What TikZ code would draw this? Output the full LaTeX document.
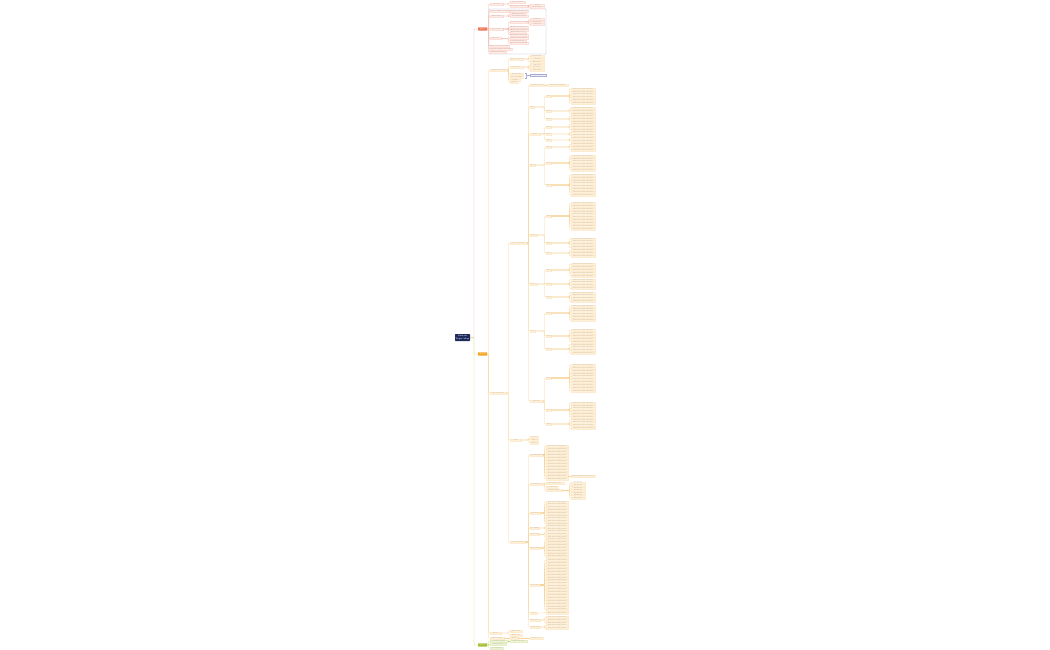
\documentclass[tikz,border=0pt]{standalone}
\usepackage{tikz}
\usetikzlibrary{calc,positioning}
\definecolor{marino}{HTML}{1F2A5C}
\definecolor{coralA}{HTML}{F07A5C}
\definecolor{ambarB}{HTML}{F5A623}
\definecolor{limaC}{HTML}{A5C23A}
\definecolor{lavanda}{HTML}{A9AED3}
\tikzset{
  raiz/.style={fill=marino,text=white,font=\fontsize{1.9}{2.3}\selectfont\bfseries,align=center,minimum width=15pt,minimum height=7pt,inner sep=0pt,rounded corners=0.6pt},
  tema/.style={anchor=west,inner sep=0pt,minimum height=3.4pt,rounded corners=0.4pt,text=white,font=\fontsize{1.4}{1.6}\selectfont},
  temaA/.style={tema,fill=coralA},
  temaB/.style={tema,fill=ambarB},
  temaC/.style={tema,fill=limaC},
  sub/.style={anchor=west,inner xsep=0.5pt,inner ysep=0pt,minimum height=2.1pt,line width=0.15pt,text=black!55,font=\fontsize{1.1}{1.3}\selectfont},
  subA/.style={sub,fill=coralA!13,draw=coralA!25},
  subB/.style={sub,fill=ambarB!16,draw=ambarB!22},
  subC/.style={sub,fill=limaC!20,draw=limaC!30},
  nota/.style={sub,fill=lavanda!20,draw=lavanda},
  ramaA/.style={draw=coralA!55,line width=0.35pt,rounded corners=1pt},
  ramaB/.style={draw=ambarB!50,line width=0.35pt,rounded corners=1pt},
  ramaC/.style={draw=limaC!60,line width=0.35pt,rounded corners=1pt}
}
\begin{document}
\begin{tikzpicture}[x=1pt,y=-1pt]
\fill[white] (0,0) rectangle (1050,650);
\useasboundingbox (0,0) rectangle (1050,650);

% root and main topics
\node[raiz] (raiz) at (462.5,337.5) {Central\\Topic Map};
\node[temaA,minimum width=9] (A) at (478,29) {Basics};
\node[temaB,minimum width=9] (B) at (478,354) {Details};
\node[temaC,minimum width=9] (C) at (478,645) {Notes};
\foreach \t/\c in {A/ramaA,B/ramaB,C/ramaC}
  \draw[\c] (raiz.east) -| ([xshift=-4pt]\t.west) -- (\t.west);

% first branch
\draw[lavanda,line width=0.4pt,rounded corners=0.5pt] (489,9) rectangle (546,54);
\foreach \n/\y/\w/\t in {a1/4/13/Overview, a2/11/19/General definition of terms, a3/16/13/Main features, a4/29/13/Key elements, a5/38.5/11/Main types, a6/46/19/Related concepts and ideas, a7/49/20/Common questions and answers, a8/52/16/Summary of this part}{
  \node[subA,minimum width=\w] (\n) at (490,\y) {\t};
  \draw[ramaA] (A.east) -| ([xshift=-1.5pt]\n.west) -- (\n.west);
}
\foreach \p/\n/\y/\w/\t in {a1/a11/2/15/Short description, a1/a12/6/18/Background of the topic, a2/a21/11/18/Meaning of the main term, a3/a31/14/16/First main feature, a3/a32/16.5/18/Second main feature, a4/a41/22/18/Structure of the elements, a4/a42/27.5/18/Element one and its role, a4/a43/30/18/Element two and its role, a4/a44/32.5/16/Element three in use, a4/a45/35/18/Element four and its role, a5/a51/38.5/18/First type with example, a5/a52/41/16/Second type in use, a5/a53/43.5/18/Third type with example}{
  \node[subA,minimum width=\w] (\n) at (510,\y) {\t};
  \draw[ramaA] (\p.east) -| ([xshift=-1.5pt]\n.west) -- (\n.west);
}
\foreach \p/\n/\y/\t in {a12/a121/4.8/Origin, a12/a122/7.2/Later changes, a41/a411/19.5/Inner part, a41/a412/22/Middle part, a41/a413/24.5/Outer part}{
  \node[subA,minimum width=14] (\n) at (530,\y) {\t};
  \draw[ramaA] (\p.east) -| ([xshift=-1.5pt]\n.west) -- (\n.west);
}

% second branch
\foreach \n/\y/\w/\t in {b1/70/18/Preparation and tools, b2/393/16/Process in detail, b3/633/11/Practice, b4/638/14/Further reading}{
  \node[subB,minimum width=\w] (\n) at (490,\y) {\t};
  \draw[ramaB] (B.east) -| ([xshift=-1.5pt]\n.west) -- (\n.west);
}
\foreach \n/\y/\w/\t in {b11/59/13/Things to prepare, b12/67/13/Tools to use, b13/74/13/Time planning, b14/77/13/Place planning, b15/80/10/Budget, b16/82.5/8/Helpers}{
  \node[subB,minimum width=\w] (\n) at (510,\y) {\t};
  \draw[ramaB] (b1.east) -| ([xshift=-1.5pt]\n.west) -- (\n.west);
}
\foreach \p/\n/\y/\t in {b11/b111/56/Material list, b11/b112/59/Checklist, b11/b113/62/Extra items, b12/b121/65/Basic tool, b12/b122/67.5/Special tool, b12/b123/70/Spare parts}{
  \node[subB,minimum width=14] (\n) at (530,\y) {\t};
  \draw[ramaB] (\p.east) -| ([xshift=-1.5pt]\n.west) -- (\n.west);
}
\coordinate (s1) at (525,73);
\coordinate (s2) at (525,78);
\node[nota,minimum width=16] (resumen) at (530,75.5) {Plan in advance};
\draw[lavanda,line width=0.3pt] (s1) -- ++(1.2,0) |- (resumen.west);
\draw[lavanda,line width=0.3pt] (s2) -- ++(1.2,0) |- (resumen.west);

\foreach \n/\y/\w/\t in {c1/243/17/Step by step method, c2/440/11/Checks, c3/542/15/Common problems}{
  \node[subB,minimum width=\w] (\n) at (510,\y) {\t};
  \draw[ramaB] (b2.east) -| ([xshift=-1.5pt]\n.west) -- (\n.west);
}
\foreach \n/\y/\w/\t in {d1/85/15/Start and overview, d2/107/4/One, d3/134/10/Step two, d4/165/5/Three, d5/235/7/Step 4, d6/284/7/Step 5, d7/331/5/Six, d8/401/13/Final step}{
  \node[subB,minimum width=\w] (\n) at (530,\y) {\t};
  \draw[ramaB] (c1.east) -| ([xshift=-1.5pt]\n.west) -- (\n.west);
}
\node[subB,minimum width=21] (d11) at (547,85) {Read all the steps first};
\draw[ramaB] (d1.east) -- (d11.west);
\foreach \p/\n/\y in {d2/f1/96, d2/f2/111, d2/f3/119, d3/f4/127, d3/f5/134, d3/f6/140, d4/f7/147, d4/f8/163, d4/f9/185, d5/f10/216, d5/f11/243, d5/f12/253, d6/f13/270, d6/f14/284, d6/f15/297, d7/f16/313, d7/f17/336, d7/f18/349, d8/f19/378, d8/f20/410, d8/f21/424}{
  \node[subB,minimum width=5] (\n) at (546,\y) {Item};
  \draw[ramaB] (\p.east) -| ([xshift=-1.5pt]\n.west) -- (\n.west);
}
\foreach \p/\y/\k in {f1/96/6, f2/111/3, f3/119/3, f4/127/3, f5/134/2, f6/140/2, f7/147/3, f8/163/6, f9/185/8, f10/216/10, f11/243/4, f12/253/3, f13/270/5, f14/284/4, f15/297/4, f16/313/6, f17/336/5, f18/349/4, f19/378/10, f20/410/6, f21/424/4}{
  \foreach \j in {1,...,\k}{
    \pgfmathsetmacro\yy{\y+(\j-(\k+1)/2)*2.9}
    \node[subB,minimum width=24] (\p-\j) at (571,\yy) {Short note on this detail item};
    \draw[ramaB] (\p.east) -| ([xshift=-1.5pt]\p-\j.west) -- (\p-\j.west);
  }
}
\foreach \n/\y/\t in {c21/437/Check 1, c22/440/Check 2, c23/443/Check 3}{
  \node[subB,minimum width=8] (\n) at (530,\y) {\t};
  \draw[ramaB] (c2.east) -| ([xshift=-1.5pt]\n.west) -- (\n.west);
}
\foreach \n/\y/\w/\t in {e1/455/13/Frequent mistakes, e2/484/12/Slow progress, e3/513/10/Bad results, e4/528/9/Low quality, e5/534.5/9/Wrong order, e6/548/10/Missing parts, e7/585/10/Other issues, e8/613/7/Safety, e9/620/10/Maintenance, e10/627/10/Storage tips}{
  \node[subB,minimum width=\w] (\n) at (530,\y) {\t};
  \draw[ramaB] (c3.east) -| ([xshift=-1.5pt]\n.west) -- (\n.west);
}
\foreach \p/\y/\k/\s in {e1/462.5/12/3, e3/513/9/2.8, e4/528/2/2.8, e5/534.5/3/2.9, e6/548/7/2.9, e7/585/18/2.9, e8/613/1/2.9, e9/620/3/2.9, e10/627/2/2.9}{
  \foreach \j in {1,...,\k}{
    \pgfmathsetmacro\yy{\y+(\j-(\k+1)/2)*\s}
    \node[subB,minimum width=22] (\p-\j) at (546,\yy) {Short note on this problem};
    \draw[ramaB] (\p.east) -| ([xshift=-1.5pt]\p-\j.west) -- (\p-\j.west);
  }
}
\node[subB,minimum width=24] (e1x) at (571,476) {Extra remark on the note above};
\draw[ramaB] (e1-11.east) -- (e1x.west);
\foreach \n/\y/\w/\t in {h1/483.5/18/Not enough practice, h2/487/12/Poor planning, h3/490.5/16/Possible solutions}{
  \node[subB,minimum width=\w] (\n) at (546,\y) {\t};
  \draw[ramaB] (e2.east) -| ([xshift=-1.5pt]\n.west) -- (\n.west);
}
\foreach \j in {1,...,7}{
  \pgfmathsetmacro\yy{490.5+(\j-4)*2.6}
  \node[subB,minimum width=14] (h3-\j) at (571,\yy) {Try this idea};
  \draw[ramaB] (h3.east) -| ([xshift=-1.5pt]h3-\j.west) -- (h3-\j.west);
}
\foreach \n/\y/\t in {b31/631/Exercise one, b32/635/Exercise two}{
  \node[subB,minimum width=12] (\n) at (510,\y) {\t};
  \draw[ramaB] (b3.east) -| ([xshift=-1.5pt]\n.west) -- (\n.west);
}
\node[subB,minimum width=8] (b41) at (510,638) {Books};
\draw[ramaB] (b4.east) -- (b41.west);
\node[subB,minimum width=13] (b411) at (530,638) {Online sources};
\draw[ramaB] (b41.east) -- (b411.west);

% third branch
\foreach \n/\y/\w/\t in {g1/641/18/Personal experience, g2/644.5/16/Ideas for later, g3/648/13/Open questions}{
  \node[subC,minimum width=\w] (\n) at (490,\y) {\t};
  \draw[ramaC] (C.east) -| ([xshift=-1.5pt]\n.west) -- (\n.west);
}
\node[subC,minimum width=17] (g11) at (510,641) {What worked well};
\draw[ramaC] (g1.east) -- (g11.west);
\end{tikzpicture}
\end{document}
